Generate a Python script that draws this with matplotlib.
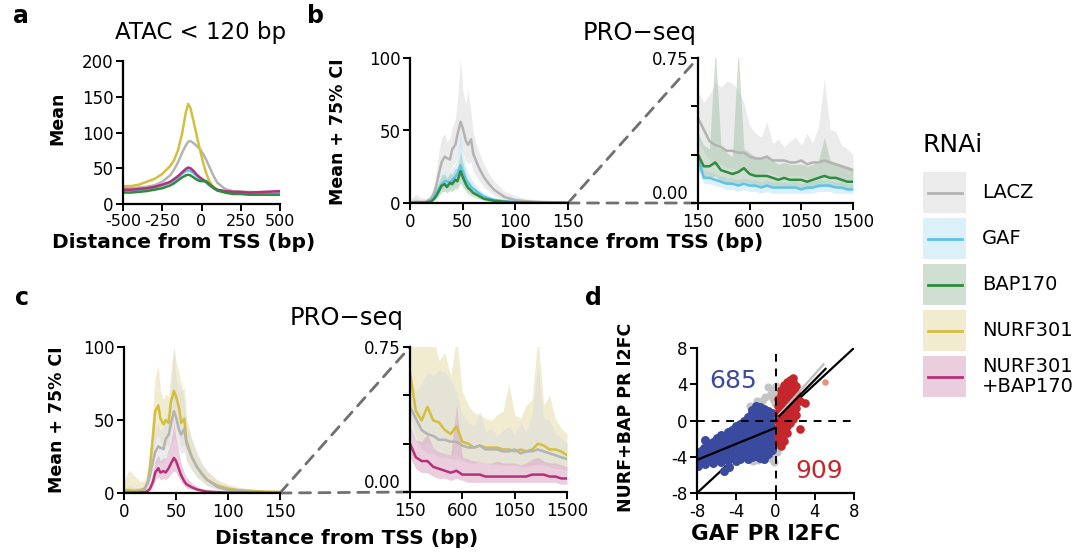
import numpy as np
import matplotlib
matplotlib.use('Agg')
import matplotlib.pyplot as plt
from matplotlib.patches import ConnectionPatch, Rectangle

plt.rcParams['font.family'] = ['DejaVu Sans']
plt.rcParams['axes.unicode_minus'] = False

W, H = 1076, 554

# ---------------- data ----------------
# panel a: ATAC < 120 bp mean profile
atac_x = [-500, -450, -400, -350, -300, -250, -200, -175, -150, -125, -100, -85, -70,
          -50, -30, -10, 10, 30, 50, 75, 100, 150, 200, 250, 300, 400, 500]
atac_lacz = [22, 22, 23, 24, 26, 31, 40, 48, 58, 71, 82, 87, 88, 85, 81, 77, 70, 62, 52, 40, 30, 21, 18, 17, 17, 16, 16]
atac_gaf = [19, 19, 20, 21, 23, 26, 30, 33, 37, 42, 46, 47, 46, 43, 39, 35, 33, 30, 26, 22, 19, 17, 16, 16, 15, 16, 16]
atac_bap = [16, 16, 17, 18, 20, 22, 26, 29, 33, 37, 40, 41, 40, 37, 34, 32, 32, 32, 28, 23, 19, 16, 14, 14, 13, 13, 13]
atac_nurf = [25, 25, 27, 31, 35, 42, 53, 61, 75, 97, 128, 140, 134, 115, 95, 76, 58, 43, 32, 24, 20, 17, 16, 16, 15, 15, 15]
atac_nb = [20, 20, 21, 22, 24, 27, 31, 35, 39, 44, 49, 51, 50, 46, 41, 37, 34, 31, 27, 23, 20, 18, 17, 17, 16, 17, 18]

# panels b/c: PRO-seq, 0-150 bp
pro_near_x = [0, 5, 10, 15, 20, 23, 25, 28, 30, 33, 35, 38, 40, 43, 45, 48, 50, 53, 55, 58,
              60, 65, 70, 75, 80, 90, 100, 110, 120, 135, 150]
lacz_near = [0.5, 0.5, 0.7, 0.8, 3, 7, 12, 22, 28, 32, 31, 30, 37, 40, 47, 56, 52, 43, 40, 44, 34, 25, 18, 13, 9, 4, 2, 1.2, 0.8, 0.5, 0.3]
lacz_near_hi = [2, 6, 4, 3, 6, 14, 22, 38, 45, 48, 42, 45, 52, 58, 70, 100, 78, 68, 78, 62, 48, 36, 27, 20, 15, 8, 5, 3, 2, 1.2, 0.8]
lacz_near_lo = [0, 0, 0, 0, 1, 3, 6, 13, 18, 21, 21, 21, 25, 28, 32, 38, 35, 29, 27, 28, 22, 16, 11, 8, 5, 2, 1, 0.5, 0.3, 0.2, 0.1]
gaf_near = [0.2, 0.2, 0.3, 0.4, 1.5, 4, 7, 11, 13, 15, 15, 14, 16, 18, 20, 26, 22, 16, 14, 11, 10, 7, 4.5, 3.2, 2.2, 1.2, 0.6, 0.4, 0.3, 0.2, 0.1]
gaf_near_hi = [1, 2, 1.5, 1, 3, 7, 11, 17, 19, 22, 21, 21, 24, 27, 32, 52, 35, 25, 21, 17, 15, 10, 7, 5, 3.5, 2, 1, 0.7, 0.5, 0.3, 0.2]
gaf_near_lo = [0, 0, 0, 0.1, 0.8, 2.5, 4.5, 7.5, 9, 10.5, 10.5, 10, 11, 12.5, 14, 17, 15, 11, 9.5, 7.5, 7, 5, 3, 2.2, 1.5, 0.8, 0.4, 0.2, 0.2, 0.1, 0]
bap_near = [0.2, 0.2, 0.2, 0.3, 1, 3, 5, 9, 12, 13, 11, 14, 13, 16, 15, 22, 18, 13, 10.5, 8.5, 7, 5, 3, 2.2, 1.5, 0.8, 0.4, 0.3, 0.2, 0.1, 0.1]
bap_near_hi = [1, 3, 2, 1, 2.5, 6, 9, 15, 19, 20, 17, 21, 20, 24, 24, 36, 28, 20, 16, 13, 11, 8, 5, 3.5, 2.5, 1.4, 0.8, 0.5, 0.4, 0.2, 0.2]
bap_near_lo = [0, 0, 0, 0, 0.5, 1.8, 3, 5.5, 7.5, 8, 7, 8.5, 8, 10, 9.5, 14, 11, 8, 6.5, 5, 4.5, 3, 1.8, 1.3, 0.9, 0.5, 0.2, 0.1, 0.1, 0, 0]
nurf_near = [2, 2, 1.5, 2, 3, 8, 18, 40, 56, 60, 51, 47, 50, 48, 62, 70, 66, 58, 48, 51, 36, 25, 18, 13, 9, 5, 3, 2, 1.5, 1, 0.8]
nurf_near_hi = [8, 16, 12, 8, 8, 18, 32, 60, 80, 87, 70, 64, 68, 66, 84, 100, 90, 82, 70, 72, 52, 38, 28, 20, 15, 9, 6, 4, 3, 2, 1.5]
nurf_near_lo = [0, 0, 0, 0.5, 1, 4, 10, 25, 36, 40, 34, 31, 33, 32, 42, 48, 45, 38, 32, 33, 23, 16, 11, 8, 5, 3, 1.5, 1, 0.7, 0.4, 0.3]
nb_near = [0.3, 0.3, 0.3, 0.4, 0.6, 1.5, 3, 8, 14, 17, 14, 15, 14, 17, 20, 24, 22, 16, 12, 8, 6, 4, 2.5, 1.6, 1, 0.6, 0.3, 0.2, 0.2, 0.1, 0.1]
nb_near_hi = [1, 1.5, 1, 1, 1.2, 3, 6, 14, 22, 26, 22, 24, 24, 30, 35, 48, 38, 27, 20, 14, 11, 7, 4.5, 3, 2, 1.1, 0.6, 0.4, 0.3, 0.2, 0.2]
nb_near_lo = [0, 0, 0, 0, 0.2, 0.7, 1.5, 4.5, 9, 11, 9, 10, 9, 11, 13, 15, 14, 10, 7.5, 5, 3.5, 2.4, 1.5, 1, 0.6, 0.3, 0.1, 0.1, 0.1, 0, 0]

# panels b/c: PRO-seq, 150-1500 bp
pro_far_x = np.arange(150, 1501, 50)
lacz_far = [0.44, 0.38, 0.32, 0.30, 0.29, 0.27, 0.27, 0.26, 0.26, 0.24, 0.23, 0.23, 0.24, 0.22,
            0.22, 0.22, 0.21, 0.21, 0.22, 0.20, 0.21, 0.21, 0.22, 0.21, 0.20, 0.19, 0.18, 0.17]
lacz_far_hi = [0.58, 0.52, 0.56, 0.62, 0.60, 0.63, 0.62, 0.58, 0.52, 0.40, 0.36, 0.34, 0.42, 0.31,
               0.33, 0.29, 0.32, 0.34, 0.30, 0.36, 0.31, 0.40, 0.64, 0.38, 0.37, 0.30, 0.28, 0.25]
lacz_far_lo = [0.32, 0.27, 0.22, 0.20, 0.20, 0.18, 0.18, 0.17, 0.17, 0.16, 0.15, 0.15, 0.16, 0.15,
               0.14, 0.14, 0.14, 0.14, 0.14, 0.13, 0.13, 0.14, 0.14, 0.14, 0.13, 0.12, 0.12, 0.11]
gaf_far = [0.24, 0.13, 0.13, 0.12, 0.11, 0.10, 0.10, 0.09, 0.10, 0.09, 0.09, 0.08, 0.09, 0.08,
           0.08, 0.08, 0.08, 0.08, 0.07, 0.08, 0.08, 0.09, 0.09, 0.09, 0.08, 0.08, 0.07, 0.07]
gaf_far_hi = [0.28, 0.17, 0.16, 0.15, 0.14, 0.13, 0.13, 0.12, 0.13, 0.12, 0.12, 0.11, 0.12, 0.11,
              0.11, 0.11, 0.11, 0.11, 0.10, 0.11, 0.11, 0.12, 0.12, 0.12, 0.11, 0.11, 0.10, 0.10]
gaf_far_lo = [0.20, 0.10, 0.10, 0.09, 0.08, 0.07, 0.07, 0.06, 0.07, 0.06, 0.06, 0.05, 0.06, 0.05,
              0.05, 0.05, 0.05, 0.05, 0.05, 0.05, 0.05, 0.06, 0.06, 0.06, 0.05, 0.05, 0.05, 0.05]
bap_far = [0.25, 0.19, 0.19, 0.21, 0.17, 0.16, 0.15, 0.16, 0.18, 0.15, 0.14, 0.14, 0.14, 0.13,
           0.12, 0.13, 0.12, 0.12, 0.12, 0.11, 0.12, 0.13, 0.14, 0.13, 0.13, 0.12, 0.11, 0.11]
bap_far_hi = [0.36, 0.30, 0.28, 0.80, 0.30, 0.26, 0.24, 0.80, 0.28, 0.26, 0.24, 0.23, 0.25, 0.22,
              0.20, 0.21, 0.20, 0.20, 0.20, 0.19, 0.20, 0.22, 0.34, 0.22, 0.21, 0.20, 0.19, 0.18]
bap_far_lo = [0.17, 0.13, 0.13, 0.14, 0.11, 0.10, 0.10, 0.10, 0.11, 0.10, 0.09, 0.09, 0.09, 0.08,
              0.08, 0.08, 0.08, 0.08, 0.08, 0.07, 0.08, 0.08, 0.09, 0.08, 0.08, 0.08, 0.07, 0.07]
nurf_far = [0.62, 0.42, 0.37, 0.44, 0.37, 0.36, 0.32, 0.30, 0.34, 0.26, 0.25, 0.23, 0.24, 0.23,
            0.23, 0.23, 0.22, 0.22, 0.21, 0.22, 0.21, 0.22, 0.25, 0.24, 0.22, 0.22, 0.21, 0.19]
nurf_far_hi = [0.80, 0.80, 0.80, 0.80, 0.80, 0.68, 0.72, 0.60, 0.80, 0.52, 0.45, 0.41, 0.40, 0.38,
               0.37, 0.40, 0.42, 0.56, 0.40, 0.38, 0.45, 0.48, 0.80, 0.45, 0.50, 0.38, 0.33, 0.30]
nurf_far_lo = [0.40, 0.28, 0.24, 0.26, 0.23, 0.22, 0.20, 0.19, 0.20, 0.17, 0.16, 0.15, 0.16, 0.15,
               0.15, 0.15, 0.14, 0.14, 0.14, 0.14, 0.14, 0.14, 0.15, 0.15, 0.14, 0.14, 0.13, 0.12]
nb_far = [0.25, 0.18, 0.16, 0.16, 0.13, 0.12, 0.11, 0.10, 0.11, 0.09, 0.09, 0.09, 0.09, 0.08,
          0.08, 0.08, 0.08, 0.08, 0.08, 0.08, 0.08, 0.09, 0.09, 0.09, 0.08, 0.08, 0.07, 0.07]
nb_far_hi = [0.34, 0.27, 0.26, 0.30, 0.23, 0.21, 0.20, 0.19, 0.45, 0.18, 0.17, 0.16, 0.16, 0.15,
             0.15, 0.16, 0.15, 0.15, 0.15, 0.14, 0.15, 0.17, 0.18, 0.16, 0.15, 0.15, 0.14, 0.13]
nb_far_lo = [0.18, 0.12, 0.10, 0.10, 0.08, 0.07, 0.07, 0.06, 0.07, 0.06, 0.05, 0.05, 0.05, 0.05,
             0.05, 0.05, 0.05, 0.05, 0.05, 0.05, 0.05, 0.05, 0.05, 0.05, 0.05, 0.05, 0.04, 0.04]

# panel d: promoter-proximal l2FC, GAF (x) vs NURF+BAP (y)
down_pts = [
    (-7.9, -5.0), (-7.85, -4.2), (-7.6, -3.4), (-7.55, -4.6), (-7.65, -3.9),
    (-7.2, -2.1), (-7.25, -3.0), (-7.15, -4.0), (-7.2, -4.8),
    (-6.8, -2.8), (-6.85, -3.6), (-6.75, -4.3),
    (-6.4, -2.4), (-6.45, -3.2), (-6.35, -4.0), (-6.4, -4.7),
    (-6.0, -1.9), (-6.05, -2.7), (-5.95, -3.5), (-6.0, -4.3),
    (-5.6, -1.6), (-5.65, -2.4), (-5.55, -3.1), (-5.6, -3.9), (-5.6, -4.6),
    (-5.2, -1.8), (-5.25, -2.6), (-5.15, -3.3), (-5.2, -4.1), (-5.2, -5.6),
    (-4.8, -1.3), (-4.85, -2.1), (-4.75, -2.9), (-4.8, -3.6), (-4.8, -4.4), (-4.7, -5.1),
    (-4.4, -1.0), (-4.45, -1.8), (-4.35, -2.6), (-4.4, -3.3), (-4.4, -4.0),
    (-4.0, -0.6), (-4.05, -1.4), (-3.95, -2.2), (-4.0, -3.0), (-4.0, -3.7), (-4.0, -4.5),
    (-3.6, -0.4), (-3.65, -1.2), (-3.55, -2.0), (-3.6, -2.8), (-3.6, -3.5), (-3.6, -4.2),
    (-3.2, 0.0), (-3.25, -0.8), (-3.15, -1.6), (-3.2, -2.4), (-3.2, -3.2), (-3.2, -3.9),
    (-2.8, 0.4), (-2.85, -0.4), (-2.75, -1.2), (-2.8, -2.0), (-2.8, -2.8), (-2.8, -3.6), (-2.8, -4.3),
    (-2.4, 1.2), (-2.45, 0.6), (-2.35, -0.2), (-2.4, -1.0), (-2.4, -1.8), (-2.4, -2.6), (-2.4, -3.4), (-2.4, -4.0),
    (-2.0, 1.6), (-2.05, 0.8), (-1.95, 0.0), (-2.0, -0.8), (-2.0, -1.6), (-2.0, -2.4), (-2.0, -3.2), (-2.0, -3.9),
    (-1.6, 1.5), (-1.65, 0.7), (-1.55, -0.1), (-1.6, -0.9), (-1.6, -1.7), (-1.6, -2.5), (-1.6, -3.3), (-1.6, -4.1),
    (-1.2, 1.3), (-1.25, 0.5), (-1.15, -0.3), (-1.2, -1.1), (-1.2, -1.9), (-1.2, -2.7), (-1.2, -3.5), (-1.2, -4.2),
    (-0.8, 1.0), (-0.85, 0.2), (-0.75, -0.6), (-0.8, -1.4), (-0.8, -2.2), (-0.8, -3.0), (-0.8, -3.7),
    (-0.4, 0.8), (-0.45, 0.0), (-0.35, -0.8), (-0.4, -1.6), (-0.4, -2.4), (-0.4, -3.2),
]
up_pts = [
    (0.3, -2.4), (0.3, -1.6), (0.3, -0.8), (0.3, 0.0), (0.3, 0.8), (0.3, 1.6), (0.3, 2.4),
    (0.6, -2.8), (0.6, -2.0), (0.6, -1.2), (0.6, -0.4), (0.6, 0.4), (0.6, 1.2), (0.6, 2.0), (0.6, 2.8), (0.6, 3.4),
    (0.9, -2.3), (0.9, -1.5), (0.9, -0.7), (0.9, 0.1), (0.9, 0.9), (0.9, 1.7), (0.9, 2.5), (0.9, 3.3), (0.9, 3.9),
    (1.2, -1.4), (1.2, -0.6), (1.2, 0.2), (1.2, 1.0), (1.2, 1.8), (1.2, 2.6), (1.2, 3.4), (1.2, 4.2),
    (1.5, -0.3), (1.5, 0.5), (1.5, 1.3), (1.5, 2.1), (1.5, 2.9), (1.5, 3.7), (1.5, 4.5),
    (1.8, 0.2), (1.8, 1.0), (1.8, 1.8), (1.8, 2.6), (1.8, 3.4), (1.8, 4.2), (1.8, 4.7),
    (2.1, 0.6), (2.1, 1.4), (2.1, 2.2), (2.1, 3.0), (2.1, 3.8),
    (2.5, -0.9), (2.5, 2.2), (3.0, 1.9),
]
ns_pts = [
    (-0.75, 3.7), (-0.25, 3.3), (-0.6, 2.8), (-1.1, 2.6), (-1.4, 2.1), (-1.9, 2.2), (0.1, 3.0),
    (0.25, 3.5), (0.45, 2.5), (-0.1, 1.9), (-0.3, 2.4), (0.0, 3.8), (-2.6, 1.6),
    (-0.1, -2.2), (0.1, -2.9), (-0.2, -3.6), (0.15, -3.5), (-0.4, -4.2), (-1.8, -4.4), (0.4, -2.2),
    (0.25, -0.7), (0.05, -1.4), (-0.15, -4.6), (-2.3, -4.5), (0.3, -3.0), (0.1, 0.5), (-0.1, -0.3),
]
outlier_pt = (5.0, 4.3)
fit_down_x, fit_down_y = [-8, -0.1], [-4.35, -0.85]
fit_up_x, fit_up_y = [0.4, 5.1], [0.5, 5.7]
fit_ns_x, fit_ns_y = [0.4, 4.9], [0.7, 6.2]
n_down, n_up = 685, 909

# legend entries
rnai_names = ['LACZ', 'GAF', 'BAP170', 'NURF301', 'NURF301+BAP170']
rnai_labels = ['LACZ', 'GAF', 'BAP170', 'NURF301', 'NURF301\n+BAP170']

# colours: (line, band)
col = {
    'LACZ': ('#b3b3b3', '#dcdcdc'),
    'GAF': ('#5cc3ea', '#bfe4f5'),
    'BAP170': ('#2e8b3f', '#a9c6ad'),
    'NURF301': ('#d3bf3e', '#e6dcaa'),
    'NURF301+BAP170': ('#b5307a', '#d9a6c3'),
}
BAND_ALPHA = 0.55

# ---------------- figure ----------------
fig = plt.figure(figsize=(W / 100, H / 100), dpi=100)


def add_ax(l, t, r, b):
    ax = fig.add_axes([l / W, 1 - b / H, (r - l) / W, (b - t) / H])
    for s in ['top', 'right']:
        ax.spines[s].set_visible(False)
    for s in ['left', 'bottom']:
        ax.spines[s].set_linewidth(1.6)
    ax.tick_params(direction='out', length=5, width=1.4, labelsize=12, pad=2)
    return ax


def ftext(x, y, s, **kw):
    fig.text(x / W, 1 - y / H, s, **kw)


def draw_profiles(ax, x, series):
    for key, mean, lo, hi in series:
        ax.fill_between(x, lo, hi, color=col[key][1], alpha=BAND_ALPHA, lw=0)
    for key, mean, lo, hi in series:
        ax.plot(x, mean, color=col[key][0], lw=1.8)


# panel a
ax_a = add_ax(123, 61, 280, 204)
for key, vals in [('LACZ', atac_lacz), ('NURF301', atac_nurf), ('GAF', atac_gaf),
                  ('NURF301+BAP170', atac_nb), ('BAP170', atac_bap)]:
    ax_a.plot(atac_x, vals, color=col[key][0], lw=1.8)
ax_a.set_xlim(-500, 500)
ax_a.set_ylim(0, 200)
ax_a.set_xticks([-500, -250, 0, 250, 500])
ax_a.set_yticks([0, 50, 100, 150, 200])
ax_a.tick_params(axis='x', labelsize=11.5)


def pro_pair(near_box, far_box, near_series, far_series):
    ax_n = add_ax(*near_box)
    draw_profiles(ax_n, pro_near_x, near_series)
    ax_n.set_xlim(0, 150)
    ax_n.set_ylim(0, 100)
    ax_n.set_xticks([0, 50, 100, 150])
    ax_n.set_yticks([0, 50, 100])

    ax_f = add_ax(*far_box)
    draw_profiles(ax_f, pro_far_x, far_series)
    ax_f.set_xlim(150, 1500)
    ax_f.set_ylim(0, 0.75)
    ax_f.set_xticks([150, 600, 1050, 1500])
    ax_f.set_yticks([0, 0.25, 0.5, 0.75])
    ax_f.set_yticklabels(['0.00', '', '', '0.75'])
    ax_f.get_yticklabels()[0].set_va('bottom')

    for y_far in (0.75, 0.0):
        con = ConnectionPatch(xyA=(150, 0), coordsA=ax_n.transData,
                              xyB=(150, y_far), coordsB=ax_f.transData,
                              color='#707070', lw=2, ls=(0, (4, 3)), zorder=0)
        fig.add_artist(con)
    return ax_n, ax_f


# panel b
pro_pair((410, 58, 568, 203), (698, 58, 853, 203),
         [('LACZ', lacz_near, lacz_near_lo, lacz_near_hi),
          ('GAF', gaf_near, gaf_near_lo, gaf_near_hi),
          ('BAP170', bap_near, bap_near_lo, bap_near_hi)],
         [('LACZ', lacz_far, lacz_far_lo, lacz_far_hi),
          ('GAF', gaf_far, gaf_far_lo, gaf_far_hi),
          ('BAP170', bap_far, bap_far_lo, bap_far_hi)])

# panel c
pro_pair((124, 347, 280, 493), (410, 347, 567, 492),
         [('NURF301', nurf_near, nurf_near_lo, nurf_near_hi),
          ('LACZ', lacz_near, lacz_near_lo, lacz_near_hi),
          ('NURF301+BAP170', nb_near, nb_near_lo, nb_near_hi)],
         [('NURF301', nurf_far, nurf_far_lo, nurf_far_hi),
          ('LACZ', lacz_far, lacz_far_lo, lacz_far_hi),
          ('NURF301+BAP170', nb_far, nb_far_lo, nb_far_hi)])

# panel d
ax_d = add_ax(697, 348, 854, 493)
ax_d.plot([-8, 8], [-8, 8], color='black', lw=1.6, zorder=1)
ns = np.array(ns_pts).T
dn = np.array(down_pts).T
up = np.array(up_pts).T
ax_d.scatter(ns[0], ns[1], s=34, color='#c4c4c4', lw=0, zorder=2)
ax_d.scatter(dn[0], dn[1], s=42, color='#3a4a9e', lw=0, zorder=2)
ax_d.scatter(up[0], up[1], s=38, color='#c4262c', lw=0, zorder=2)
ax_d.scatter([outlier_pt[0]], [outlier_pt[1]], s=22, color='#e8917c', lw=0, zorder=2)
ax_d.plot(fit_ns_x, fit_ns_y, color='#bdbdbd', lw=1.6, zorder=3)
ax_d.plot(fit_up_x, fit_up_y, color='black', lw=1.6, zorder=4)
ax_d.plot(fit_down_x, fit_down_y, color='black', lw=1.6, zorder=4)
ax_d.axvline(0, color='black', lw=1.4, ls=(0, (4, 3.5)), zorder=5)
ax_d.axhline(0, color='black', lw=1.4, ls=(0, (4, 3.5)), zorder=5)
ax_d.text(-4.3, 4.4, str(n_down), color='#3a4a9e', fontsize=18, ha='center', va='center')
ax_d.text(4.5, -5.6, str(n_up), color='#c4262c', fontsize=18, ha='center', va='center')
ax_d.set_xlim(-8, 8)
ax_d.set_ylim(-8, 8)
ax_d.set_xticks([-8, -4, 0, 4, 8])
ax_d.set_yticks([-8, -4, 0, 4, 8])

# labels
for s, x, y in [('a', 13, 23), ('b', 307, 23), ('c', 15, 305), ('d', 585, 305)]:
    ftext(x, y, s, fontsize=17, fontweight='bold', ha='left', va='baseline')
ftext(201, 33, 'ATAC < 120 bp', fontsize=16.5, ha='center', va='center')
ftext(640, 33, 'PRO\u2212seq', fontsize=17.5, ha='center', va='center')
ftext(347, 318, 'PRO\u2212seq', fontsize=17.5, ha='center', va='center')
xlab = dict(fontsize=14.5, fontweight='bold', ha='center', va='center')
ylab = dict(fontsize=12.5, fontweight='bold', ha='center', va='center', rotation=90)
ftext(184, 243, 'Distance from TSS (bp)', **xlab)
ftext(632, 243, 'Distance from TSS (bp)', **xlab)
ftext(347, 538, 'Distance from TSS (bp)', **xlab)
ftext(766, 534, 'GAF PR l2FC', **dict(xlab, fontsize=15.5))
ftext(57, 118, 'Mean', **ylab)
ftext(338, 132, 'Mean + 75% CI', **ylab)
ftext(57, 420, 'Mean + 75% CI', **ylab)
ftext(626, 417, 'NURF+BAP PR l2FC', **ylab)

# legend, laid out in pixel units
ax_leg = fig.add_axes([900 / W, 1 - 420 / H, 176 / W, 300 / H])
ax_leg.set_xlim(900, 1076)
ax_leg.set_ylim(420, 120)
ax_leg.axis('off')
ax_leg.text(923, 145, 'RNAi', fontsize=18, ha='left', va='center')
for i, (name, label) in enumerate(zip(rnai_names, rnai_labels)):
    top = 172 + 46 * i
    ax_leg.add_patch(Rectangle((923, top), 43, 41, facecolor=col[name][1],
                               alpha=BAND_ALPHA, lw=0))
    ax_leg.plot([928, 962], [top + 20.5, top + 20.5], color=col[name][0], lw=2)
    ax_leg.text(982, top + 20.5, label, fontsize=14, ha='left', va='center',
                linespacing=1.1)

fig.savefig('out.png', dpi=100)
